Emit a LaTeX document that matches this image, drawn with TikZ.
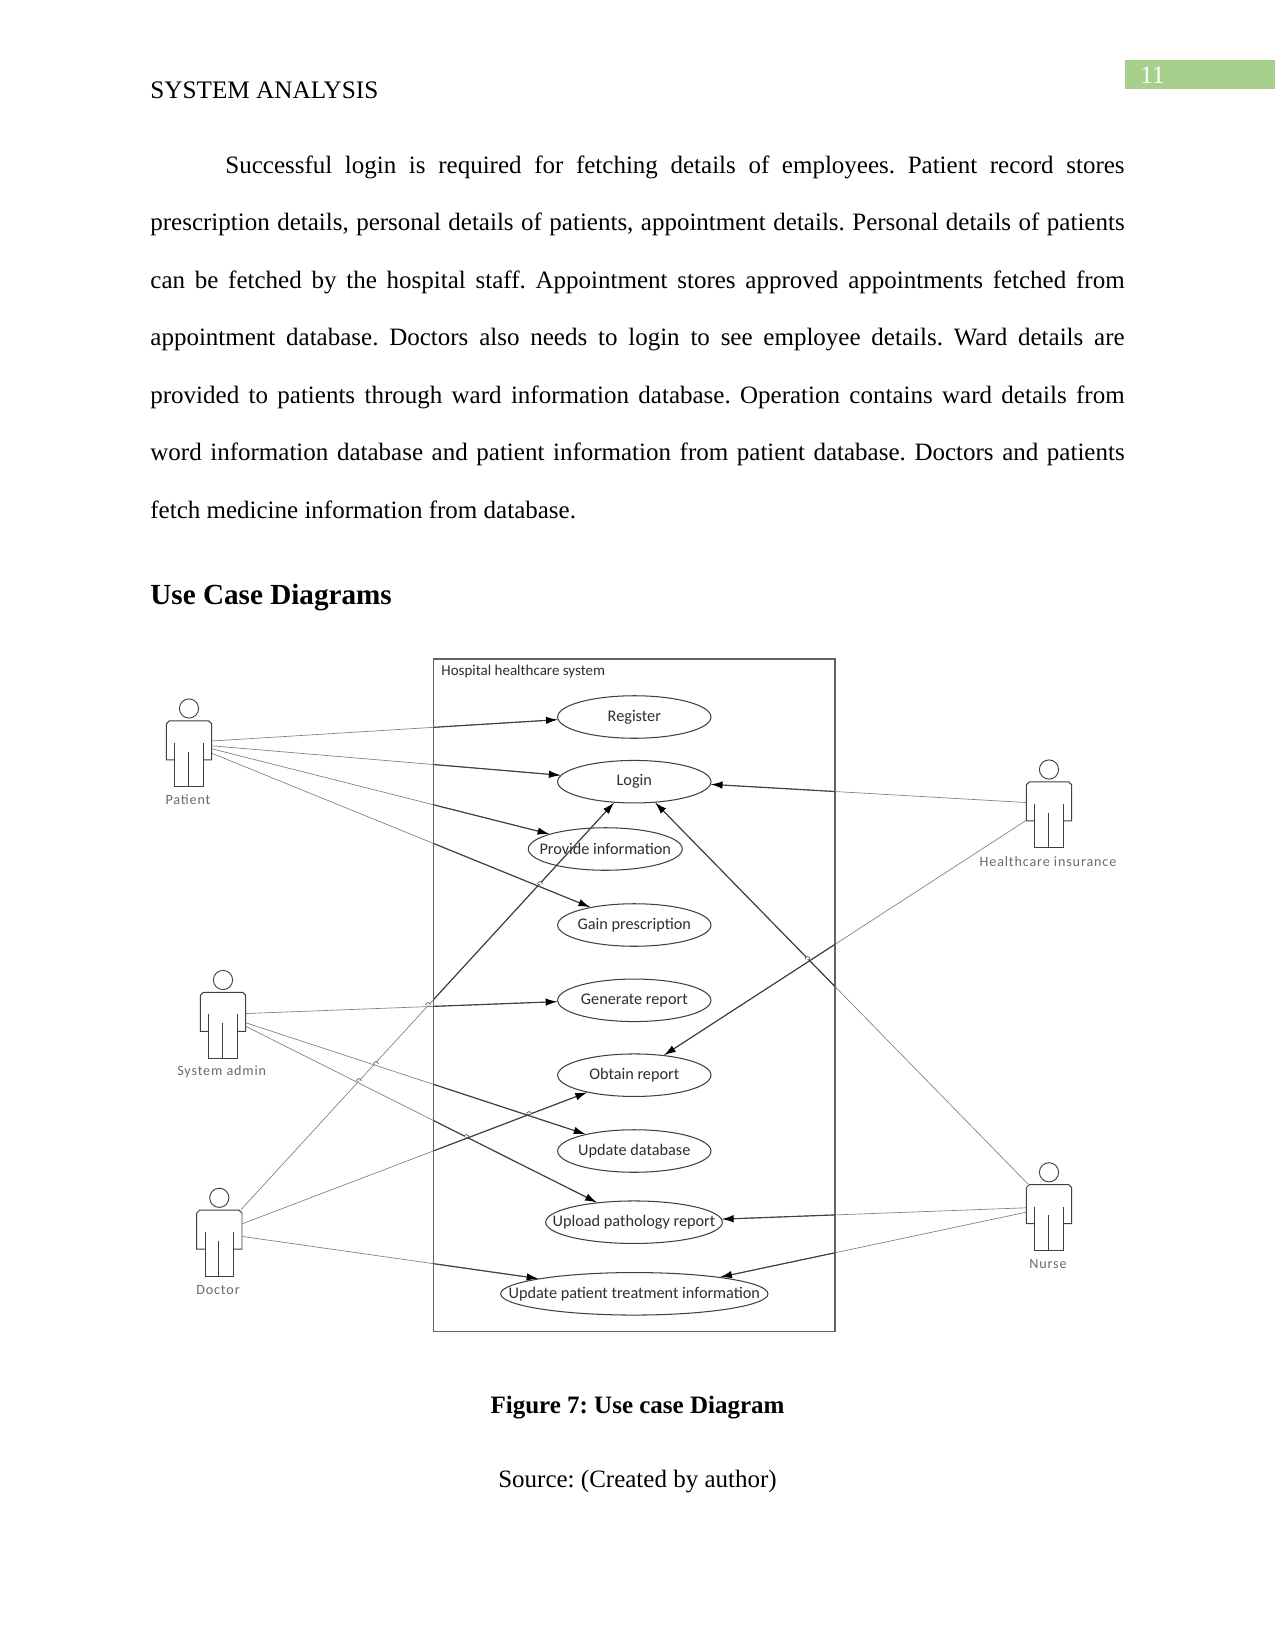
\documentclass[tikz,border=0pt]{standalone}
\usepackage{fontspec}
\setmainfont{Liberation Serif}
\newfontfamily\casefont{Carlito}
\newfontfamily\actorfont[LetterSpace=6]{Carlito}
\usetikzlibrary{shapes.geometric,arrows.meta}
\definecolor{tabgreen}{HTML}{A8D08D}
\definecolor{inkline}{gray}{0.25}
\definecolor{paleline}{gray}{0.5}
\definecolor{boxline}{gray}{0.38}
\definecolor{actortext}{gray}{0.42}
\frenchspacing
\tikzset{
  usecase/.style={ellipse,draw=inkline,line width=0.5pt,inner sep=0pt,minimum height=20.4pt,minimum width=73.6pt},
  casetext/.style={font=\casefont\fontsize{7.8}{9}\selectfont,text=black!82},
  actorbody/.style={draw=inkline,line width=0.45pt},
  actorframe/.style={rectangle,inner sep=0pt,minimum width=21.8pt,minimum height=31.7pt},
  actorlabel/.style={font=\actorfont\fontsize{6.8}{8}\selectfont,text=actortext,inner sep=0pt},
  pagetext/.style={anchor=base west,inner sep=0pt,font=\fontsize{12}{12}\selectfont},
  linkfar/.style={draw=paleline,line width=0.32pt},
  linknear/.style={draw=inkline,line width=0.55pt,-{Latex[length=5.6pt,width=3.6pt,black]}},
  hopmark/.style={draw=inkline,line width=0.3pt,fill=white},
}
% Stick figure: name, head x, head y, caption, caption x, caption y
\newcommand{\actorfig}[6]{%
  \draw[actorbody] (#2,#3) circle [radius=9.6];
  \node[actorframe] (#1) at (#2,#3+45.3) {};
  \begin{scope}[shift={(#2,#3)}]
    \draw[actorbody] (-14.2,51.3) -- (-22.7,51.3) -- (-22.7,15.3) -- (-19.7,12.3) -- (19.7,12.3) -- (22.7,15.3) -- (22.7,51.3) -- (14.2,51.3);
    \draw[actorbody] (-14.2,34.3) -- (-14.2,78.3) -- (14.2,78.3) -- (14.2,34.3);
    \draw[actorbody] (-0.8,43) -- (-0.8,78.3);
  \end{scope}
  \node[actorlabel] (#1-caption) at (#5,#6) {#4};
}
\begin{document}
\begin{tikzpicture}[x=0.48pt,y=-0.48pt]
\useasboundingbox (0,0) rectangle (1275,1651);
\fill[white] (0,0) rectangle (1275,1651);

% Running header and page tab
\fill[tabgreen] (1125,60.3) rectangle (1275,89.3);
\node[inner sep=0pt,text=white,font=\fontsize{12}{12}\selectfont] (pagenum) at (1152.5,75) {11};
\node[pagetext,font=\fontsize{12.1}{12}\selectfont] (header) at (150,99) {SYSTEM ANALYSIS};

% Body paragraph
\node[anchor=north west,inner sep=0pt,text width=467.6pt,align=justify,font=\fontsize{12}{27.6}\selectfont] (body) at (150,155.3) {%
\hspace*{36pt}Successful login is required for fetching details of employees. Patient record stores\linebreak
prescription details, personal details of patients, appointment details. Personal details of patients\linebreak
can be fetched by the hospital staff. Appointment stores approved appointments fetched from\linebreak
appointment database. Doctors also needs to login to see employee details. Ward details are\linebreak
provided to patients through ward information database. Operation contains ward details from\linebreak
word information database and patient information from patient database. Doctors and patients\linebreak
fetch medicine information from database.};

\node[pagetext,font=\bfseries\fontsize{14}{14}\selectfont] (heading) at (150,604) {Use Case Diagrams};

% System boundary
\draw[draw=boxline,line width=0.5pt] (433.7,659) rectangle (835,1331.7);
\node[anchor=west,inner sep=0pt,casetext,font=\casefont\fontsize{7.2}{8}\selectfont] (systemtitle) at (441,671.5) {Hospital healthcare system};

% Use cases
\node[usecase,label={[casetext]center:Register}] (register) at (634.3,717) {};
\node[usecase,label={[casetext]center:Login}] (login) at (634.3,781.7) {};
\node[usecase,minimum width=73.9pt,label={[casetext]center:Provide information}] (provide) at (605.3,849) {};
\node[usecase,label={[casetext]center:Gain prescription}] (gain) at (634.3,925) {};
\node[usecase,label={[casetext]center:Generate report}] (generate) at (634.3,1000.3) {};
\node[usecase,label={[casetext]center:Obtain report}] (obtain) at (634.3,1075.2) {};
\node[usecase,label={[casetext]center:Update database}] (updatedb) at (634.3,1151) {};
\node[usecase,minimum width=84.8pt,label={[casetext]center:Upload pathology report}] (upload) at (634,1222.2) {};
\node[usecase,minimum width=128.3pt,label={[casetext]center:Update patient treatment information}] (treatment) at (634.3,1293.8) {};

% Actors
\actorfig{patient}{189}{708.5}{Patient}{188}{799.8}
\actorfig{admin}{223}{980}{System admin}{221.7}{1071.8}
\actorfig{doctor}{219.3}{1197.8}{Doctor}{218}{1290.3}
\actorfig{insurer}{1049}{769.5}{Healthcare insurance}{1048}{861.5}
\actorfig{nurse}{1049}{1172.3}{Nurse}{1048}{1263.5}

% Associations: pale outside the boundary, dark with a tip inside it
\foreach \src/\dst in {
  patient.29/register.182.5, patient.19.4/login.175.2, patient.12.4/provide.165.3, patient.1.5/gain.158.4,
  admin.27/generate.181.8, admin.6.5/updatedb.161.3, admin.-3.5/upload.152.6,
  doctor.57/login.226, doctor.40.4/obtain.200.3, doctor.16.9/treatment.171.3,
  insurer.152.7/login.-2.7, insurer.194.8/obtain.34.5,
  nurse.122.7/login.-45.9, nurse.157.7/upload.2.2, nurse.167.8/treatment.11.8}
  \draw[linkfar] (\src) -- (\dst);
\begin{scope}
  \clip (433.7,659) rectangle (835,1331.7);
  \foreach \src/\dst in {
    patient.29/register.182.5, patient.19.4/login.175.2, patient.12.4/provide.165.3, patient.1.5/gain.158.4,
    admin.27/generate.181.8, admin.6.5/updatedb.161.3, admin.-3.5/upload.152.6,
    doctor.57/login.226, doctor.40.4/obtain.200.3, doctor.16.9/treatment.171.3,
    insurer.152.7/login.-2.7, insurer.194.8/obtain.34.5,
    nurse.122.7/login.-45.9, nurse.157.7/upload.2.2, nurse.167.8/treatment.11.8}
    \draw[linknear] (\src) -- (\dst);
\end{scope}

% Small hops where two associations cross
\foreach \hx/\hy in {540/884, 428/1005, 376/1064, 359/1081, 529/1114, 466.5/1137, 807.5/959}
  \draw[hopmark] (\hx-2.4,\hy) arc [start angle=180,end angle=360,radius=2.4];

% Caption lines
\node[inner sep=0pt,anchor=base,font=\bfseries\fontsize{12}{12}\selectfont] (figcaption) at (637.5,1413) {Figure 7: Use case Diagram};
\node[inner sep=0pt,anchor=base,font=\fontsize{12}{12}\selectfont] (source) at (637.5,1487) {Source: (Created by author)};
\end{tikzpicture}
\end{document}
